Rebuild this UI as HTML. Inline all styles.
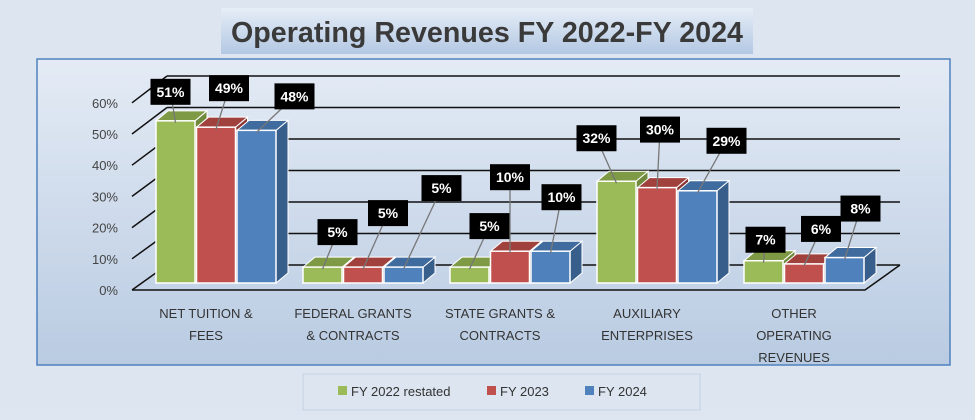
<!DOCTYPE html>
<html><head><meta charset="utf-8"><style>
body{margin:0;width:975px;height:415px;overflow:hidden;background:#dde6f1;font-family:"Liberation Sans",sans-serif}
</style></head><body>
<svg width="975" height="415" xmlns="http://www.w3.org/2000/svg">
<defs>
<linearGradient id="bg" x1="0" y1="0" x2="0" y2="1"><stop offset="0" stop-color="#e4ebf5"/><stop offset="1" stop-color="#b9cbe2"/></linearGradient>
<linearGradient id="tb" x1="0" y1="0" x2="0" y2="1"><stop offset="0" stop-color="#e6edf7"/><stop offset="1" stop-color="#b3c8e3"/></linearGradient>
</defs>
<rect width="975" height="415" fill="#dce5f0"/>
<rect x="221" y="8" width="532" height="46" fill="url(#tb)"/>
<text x="487" y="42" text-anchor="middle" font-size="29" font-weight="bold" fill="#3a3a3a" textLength="512" lengthAdjust="spacingAndGlyphs">Operating Revenues FY 2022-FY 2024</text>
<rect x="37" y="59" width="913" height="306" fill="url(#bg)" stroke="#4f81bd" stroke-width="1.5"/>
<g id="grid"></g>
<g id="bars"></g>
<g id="labels"></g>
<g id="cats"></g>
<rect x="303" y="374" width="397" height="36" fill="#dce5f0" stroke="#c5d3e5"/>
<g><rect x="338" y="386" width="9" height="9" fill="#9bbb59"/><text x="351" y="396" font-size="13" fill="#333">FY 2022 restated</text></g>
<g><rect x="487" y="386" width="9" height="9" fill="#c0504d"/><text x="500" y="396" font-size="13" fill="#333">FY 2023</text></g>
<g><rect x="585" y="386" width="9" height="9" fill="#4f81bd"/><text x="598" y="396" font-size="13" fill="#333">FY 2024</text></g>
</svg>
<script>
const categories=[["NET TUITION &","FEES"],["FEDERAL GRANTS","& CONTRACTS"],["STATE GRANTS &","CONTRACTS"],["AUXILIARY","ENTERPRISES"],["OTHER","OPERATING","REVENUES"]];
const fy2022=[51,5,5,32,7];
const fy2023=[49,5,10,30,6];
const fy2024=[48,5,10,29,8];
const ticks=[0,10,20,30,40,50,60];
const series=[fy2022,fy2023,fy2024];
const fronts=["#9bbb59","#c0504d","#4f81bd"],tops=["#7e9a45","#a0413e","#3f6b9f"],sides=["#6f8a3c","#8b3533","#385e8c"];
const ldx=[[-5,13,38],[15,25,38],[20,0,11],[-20,3,29],[2,17,16]];
const ldy=[[-29,-39,-34],[-35,-54,-79],[-41,-74,-54],[-43,-58,-50],[-21,-35,-49]];
const NS="http://www.w3.org/2000/svg";
function el(t,a,p){const e=document.createElementNS(NS,t);for(const k in a)e.setAttribute(k,a[k]);p.appendChild(e);return e;}
const yFront=v=>290-v*3.12, yBack=v=>265-v*3.15, yBar=v=>283-v*3.18;
const xGroup=i=>156+i*147;
const grid=document.getElementById('grid');
ticks.forEach(t=>{
 const l=el('line',{x1:167,y1:yBack(t),x2:900,y2:yBack(t),stroke:'#111','stroke-width':1.5},grid);
 
 
 const d=el('line',{x1:132,y1:yFront(t),x2:167,y2:yBack(t),stroke:'#111','stroke-width':1.5},grid);
 
 
 const tx=el('text',{x:118,y:yFront(t)+5,'text-anchor':'end','font-size':13,fill:'#444'},grid);
 tx.textContent=t+'%';
 
 
});
const fl=el('polyline',{points:'132,290 865,290 900,265',fill:'none',stroke:'#111','stroke-width':1.5},grid);


const bars=document.getElementById('bars'),labels=document.getElementById('labels'),cats=document.getElementById('cats');
categories.forEach((c,i)=>{
 series.forEach((s,j)=>{
  const x=xGroup(i)+j*40.5,w=39,y=yBar(s[i]),h=283-y,dx=12,dy=-10;
  const g=el('g',{},bars);
  
  
  el('polygon',{points:`${x+w},${y} ${x+w+dx},${y+dy} ${x+w+dx},${283+dy} ${x+w},283`,fill:sides[j],stroke:'#fff','stroke-width':1},g);
  el('polygon',{points:`${x},${y} ${x+dx},${y+dy} ${x+w+dx},${y+dy} ${x+w},${y}`,fill:tops[j],stroke:'#fff','stroke-width':1},g);
  el('rect',{x:x,y:y,width:w,height:h,fill:fronts[j],stroke:'#fff','stroke-width':1.5},g);
  const cx=x+w/2,lx=cx+ldx[i][j],ly=y+ldy[i][j];
  const ln=el('polyline',{points:`${cx},${y+2} ${lx},${ly}`,fill:'none',stroke:'#777','stroke-width':1.3},labels);
  
  
  const lb=el('rect',{x:lx-20,y:ly-13,width:40,height:26,fill:'#000'},labels);
  
  
  const lt=el('text',{x:lx,y:ly+5,'text-anchor':'middle','font-size':14,'font-weight':'bold',fill:'#fff'},labels);
  lt.textContent=s[i]+'%';
  
  
 });
 c.forEach((line,k)=>{
  const t=el('text',{x:xGroup(i)+50,y:318+k*22,'text-anchor':'middle','font-size':13,fill:'#333'},cats);
  t.textContent=line;
  
  
 });
});
</script>
</body></html>
